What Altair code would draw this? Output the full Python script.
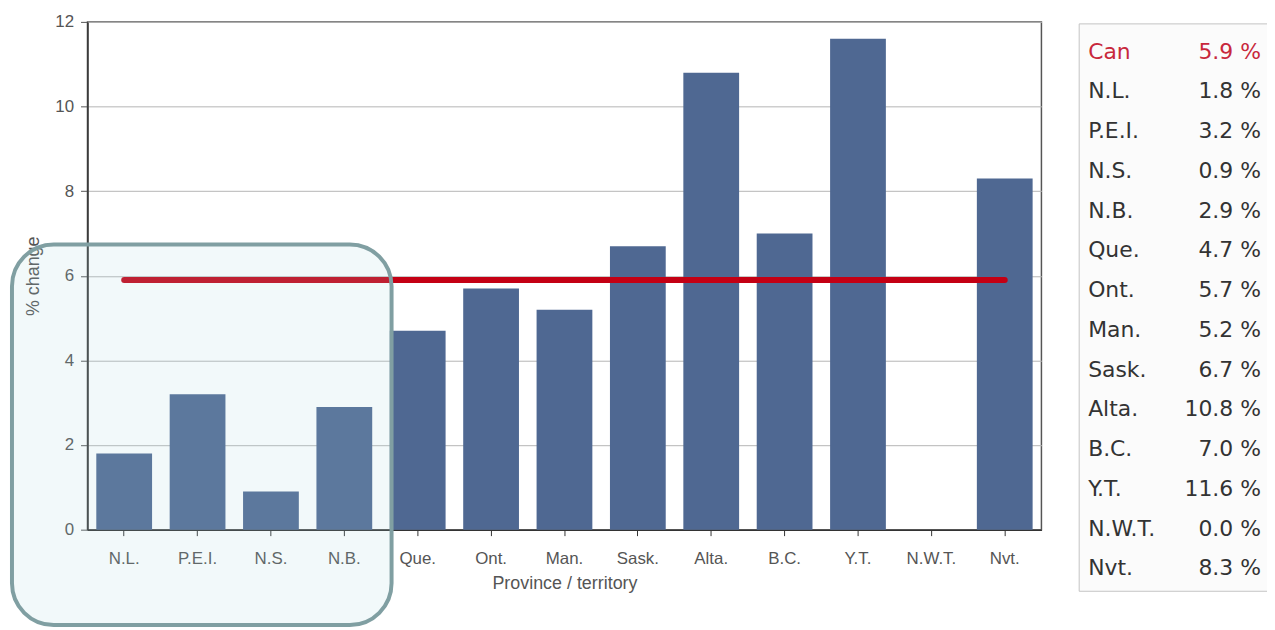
import altair as alt
import pandas as pd

provinces = ["N.L.", "P.E.I.", "N.S.", "N.B.", "Que.", "Ont.", "Man.", "Sask.",
             "Alta.", "B.C.", "Y.T.", "N.W.T.", "Nvt."]
pct_change = [1.8, 3.2, 0.9, 2.9, 4.7, 5.7, 5.2, 6.7, 10.8, 7.0, 11.6, 0.0, 8.3]
canada_label = "Can"
canada_value = 5.9

bars_df = pd.DataFrame({"prov": provinces, "val": pct_change})
line_df = pd.DataFrame({"prov": [provinces[0], provinces[-1]],
                        "val": [canada_value, canada_value]})
legend_labels = [canada_label] + provinces
legend_values = [canada_value] + pct_change
legend_df = pd.DataFrame({
    "row": list(range(len(legend_labels))),
    "label": legend_labels,
    "vtxt": [f"{v:.1f}" for v in legend_values],
    "pct": ["%"] * len(legend_labels),
    "tcolor": ["#c8283c"] + ["#333333"] * len(provinces),
})
one = pd.DataFrame({"a": [0]})

FONT = "Liberation Sans"
LFONT = "DejaVu Sans"

x_enc = alt.X("prov:N", sort=provinces,
              scale=alt.Scale(paddingInner=0.24, paddingOuter=0.12),
              axis=alt.Axis(title="Province / territory", labelAngle=0,
                            tickSize=6, labelPadding=15, titlePadding=8,
                            grid=False, domainColor="#333333", domainWidth=1.5,
                            tickColor="#333333"))
y_enc = alt.Y("val:Q", scale=alt.Scale(domain=[0, 12], nice=False),
              axis=alt.Axis(title="% change", values=[0, 2, 4, 6, 8, 10, 12],
                            tickSize=7, labelPadding=7, titlePadding=12,
                            gridColor="#b4b4b4", gridWidth=1,
                            domainColor="#333333", domainWidth=1.5,
                            tickColor="#555555"))

bars = alt.Chart(bars_df).mark_bar(color="#4f6892").encode(x=x_enc, y=y_enc)

red_line = alt.Chart(line_df).mark_line(color="#c40014", strokeWidth=6,
                                        strokeCap="round").encode(
    x=alt.X("prov:N", sort=provinces), y=alt.Y("val:Q"))

overlay = alt.Chart(one).mark_rect(
    fill="#a8d8dc", fillOpacity=0.15, stroke="#809fa2", strokeWidth=4,
    cornerRadius=42).encode(
    x=alt.value(-76), x2=alt.value(306), y=alt.value(224), y2=alt.value(607))

main = alt.layer(bars, red_line, overlay)

legend_box = alt.Chart(one).mark_rect(
    fill="#fbfbfb", stroke="#c4c4c4", strokeWidth=1).encode(
    x=alt.value(998), x2=alt.value(1225), y=alt.value(2), y2=alt.value(573))

row_y = alt.Y("row:Q", scale=alt.Scale(domain=[0, len(legend_labels) - 1],
                                       range=[30, 550]), axis=None)

leg_labels = alt.Chart(legend_df).mark_text(
    align="left", baseline="middle", font=LFONT, fontSize=22).encode(
    x=alt.value(1007), y=row_y, text="label:N",
    color=alt.Color("tcolor:N", scale=None))
leg_vals = alt.Chart(legend_df).mark_text(
    align="right", baseline="middle", font=LFONT, fontSize=22).encode(
    x=alt.value(1153), y=row_y, text="vtxt:N",
    color=alt.Color("tcolor:N", scale=None))
leg_pct = alt.Chart(legend_df).mark_text(
    align="left", baseline="middle", font=LFONT, fontSize=22).encode(
    x=alt.value(1160), y=row_y, text="pct:N",
    color=alt.Color("tcolor:N", scale=None))

legend = alt.layer(legend_box, leg_labels, leg_vals, leg_pct)

chart = alt.layer(main, legend).resolve_scale(
    y="independent"
).properties(
    width=960, height=511,
    padding={"left": 80, "top": 12, "right": 227, "bottom": 99},
    autosize=alt.AutoSizeParams(type="none"),
    background="white",
).configure_view(
    stroke="#555555", strokeWidth=1.5
).configure_axis(
    labelFont=FONT, titleFont=FONT, labelFontSize=17, titleFontSize=18,
    labelColor="#555555", titleColor="#555555", titleFontWeight="normal"
)

chart.save("out.html", embed_options={"renderer": "svg", "actions": False})
